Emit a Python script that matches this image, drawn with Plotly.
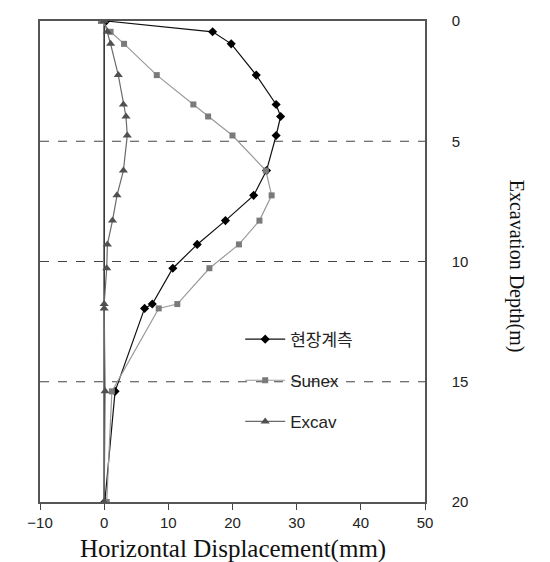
import plotly.graph_objects as go

depth = [0, 0.45, 0.95, 2.25, 3.47, 3.97, 4.76, 6.22, 7.25, 8.3, 9.29, 10.28, 11.77, 11.95, 15.4, 20]
measured = [0.3, 16.9, 19.8, 23.7, 26.8, 27.5, 26.8, 25.3, 23.3, 18.9, 14.5, 10.7, 7.5, 6.3, 1.7, 0.1]
sunex = [-0.5, 1.0, 3.1, 8.2, 13.9, 16.2, 20.0, 25.2, 26.1, 24.2, 21.0, 16.4, 11.4, 8.5, 1.2, 0.4]
excav = [0.0, 0.5, 1.0, 2.2, 3.0, 3.4, 3.6, 3.0, 2.0, 1.3, 0.5, 0.4, 0.0, 0.0, 0.15, 0.0]

names = ["현장계측", "Sunex", "Excav"]
x_ticks = [-10, 0, 10, 20, 30, 40, 50]
y_ticks = [0, 5, 10, 15, 20]
dash_depths = [5, 10, 15]

fig = go.Figure()

fig.add_trace(go.Scatter(
    x=measured, y=depth, name=names[0], mode="lines+markers",
    line=dict(color="#111111", width=1.2),
    marker=dict(symbol="diamond", size=7, color="#000000"),
    legendgroup="a"))
fig.add_trace(go.Scatter(
    x=sunex, y=depth, name=names[1], mode="lines+markers",
    line=dict(color="#9a9a9a", width=1.2),
    marker=dict(symbol="square", size=6, color="#7a7a7a"),
    legendgroup="b"))
fig.add_trace(go.Scatter(
    x=excav, y=depth, name=names[2], mode="lines+markers",
    line=dict(color="#6a6a6a", width=1.2),
    marker=dict(symbol="triangle-up", size=8, color="#505050"),
    legendgroup="c"))

for d in dash_depths:
    fig.add_shape(type="line", xref="x", yref="y", x0=-10, x1=50, y0=d, y1=d,
                  line=dict(color="#444444", width=1.2, dash="dash"), layer="below")
fig.add_shape(type="line", xref="x", yref="y", x0=0, x1=0, y0=0, y1=20,
              line=dict(color="#333333", width=1.6), layer="below")

fig.update_layout(
    width=550, height=562,
    margin=dict(l=40, r=125, t=18, b=60),
    paper_bgcolor="white", plot_bgcolor="white",
    showlegend=True,
    legend=dict(x=0.52, y=0.375, xanchor="left", yanchor="top",
                font=dict(family="Liberation Sans, Noto Sans CJK KR", size=17, color="#222222"),
                bgcolor="rgba(0,0,0,0)", tracegroupgap=16, itemwidth=40),
    xaxis=dict(range=[-10, 50], tickvals=x_ticks, ticks="outside", ticklen=6,
               tickcolor="#444444", showline=True, mirror=True, linecolor="#555555",
               linewidth=1.5, showgrid=False, zeroline=False,
               tickfont=dict(family="Liberation Sans", size=15, color="#222222")),
    yaxis=dict(range=[20, 0], tickvals=y_ticks, side="right", ticks="",
               showline=True, mirror=True, linecolor="#555555", linewidth=1.5,
               showgrid=False, zeroline=False, ticklabelstandoff=22,
               tickfont=dict(family="Liberation Sans", size=15, color="#222222")),
    annotations=[
        dict(text="Horizontal Displacement(mm)", xref="paper", yref="paper",
             x=0.5, y=-0.097, xanchor="center", yanchor="middle", showarrow=False,
             font=dict(family="Liberation Serif", size=25, color="#111111")),
        dict(text="Excavation Depth(m)", xref="paper", yref="paper",
             x=1.238, y=0.49, xanchor="center", yanchor="middle", showarrow=False,
             textangle=90,
             font=dict(family="Liberation Serif", size=20, color="#111111")),
    ],
)

fig.write_html("out.html")
